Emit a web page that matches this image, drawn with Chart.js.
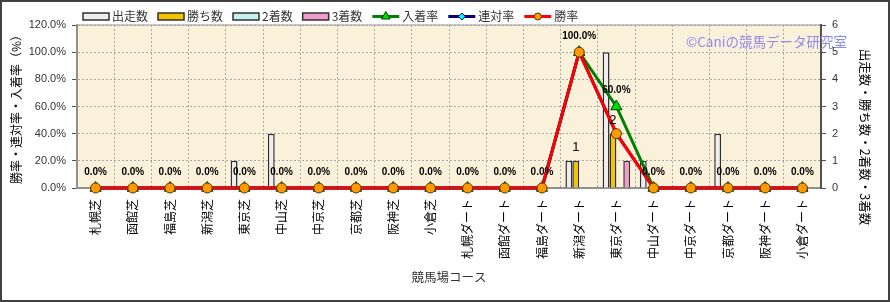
<!DOCTYPE html>
<html>
<head>
<meta charset="utf-8">
<script src="https://cdn.jsdelivr.net/npm/chart.js@4"></script>
<style>
  html, body { margin: 0; padding: 0; background: #fff; }
  #wrap { width: 890px; height: 302px; }
</style>
</head>
<body>
<div id="wrap"><canvas id="chart" width="890" height="302"></canvas></div>
<script>
const courses = ['札幌芝', '函館芝', '福島芝', '新潟芝', '東京芝', '中山芝', '中京芝', '京都芝', '阪神芝', '小倉芝',
  '札幌ダート', '函館ダート', '福島ダート', '新潟ダート', '東京ダート', '中山ダート', '中京ダート', '京都ダート', '阪神ダート', '小倉ダート'];

const runs    = [0, 0, 0, 0, 1, 2, 0, 0, 0, 0, 0, 0, 0, 1, 5, 1, 0, 2, 0, 0];
const wins    = [0, 0, 0, 0, 0, 0, 0, 0, 0, 0, 0, 0, 0, 1, 2, 0, 0, 0, 0, 0];
const seconds = [0, 0, 0, 0, 0, 0, 0, 0, 0, 0, 0, 0, 0, 0, 0, 0, 0, 0, 0, 0];
const thirds  = [0, 0, 0, 0, 0, 0, 0, 0, 0, 0, 0, 0, 0, 0, 1, 0, 0, 0, 0, 0];

const placeRate  = [0, 0, 0, 0, 0, 0, 0, 0, 0, 0, 0, 0, 0, 100, 60, 0, 0, 0, 0, 0];
const rentaiRate = [0, 0, 0, 0, 0, 0, 0, 0, 0, 0, 0, 0, 0, 100, 40, 0, 0, 0, 0, 0];
const winRate    = [0, 0, 0, 0, 0, 0, 0, 0, 0, 0, 0, 0, 0, 100, 40, 0, 0, 0, 0, 0];

const rateTicks = [0, 20, 40, 60, 80, 100, 120];
const countTicks = [0, 1, 2, 3, 4, 5, 6];

const JP = "'Noto Sans CJK JP', sans-serif";
const NUM = "'Liberation Sans', Arial, sans-serif";

function drawMarker(ctx, style, x, y, r, fill, stroke) {
    ctx.save();
    ctx.fillStyle = fill;
    ctx.strokeStyle = stroke;
    ctx.lineWidth = 1;
    ctx.beginPath();
    if (style === 'circle') {
        ctx.arc(x, y, r, 0, Math.PI * 2);
    } else if (style === 'triangle') {
        ctx.moveTo(x, y - r);
        ctx.lineTo(x + r * 0.87, y + r * 0.5);
        ctx.lineTo(x - r * 0.87, y + r * 0.5);
        ctx.closePath();
    } else {
        ctx.moveTo(x, y - r);
        ctx.lineTo(x + r, y);
        ctx.lineTo(x, y + r);
        ctx.lineTo(x - r, y);
        ctx.closePath();
    }
    ctx.fill();
    ctx.stroke();
    ctx.restore();
}

// plot background, outer frame, watermark, legend, right axis title
const decorPlugin = {
    id: 'decor',
    beforeDraw(chart) {
        const { ctx, chartArea: a, width, height } = chart;
        ctx.save();
        ctx.fillStyle = '#ffffff';
        ctx.fillRect(0, 0, width, height);
        ctx.fillStyle = '#fbf0da';
        ctx.fillRect(a.left, a.top, a.right - a.left, a.bottom - a.top);
        ctx.strokeStyle = '#c8c8c8';
        ctx.lineWidth = 2;
        ctx.beginPath();
        ctx.moveTo(a.left, a.top);
        ctx.lineTo(a.right, a.top);
        ctx.stroke();
        ctx.restore();
    },
    afterDraw(chart) {
        const { ctx, width, height } = chart;
        ctx.save();

        // watermark
        ctx.font = '13.5px ' + JP;
        ctx.fillStyle = '#8c8cee';
        ctx.textBaseline = 'middle';
        ctx.textAlign = 'left';
        ctx.fillText('©Caniの競馬データ研究室', 686, 42);

        // right axis title
        ctx.save();
        ctx.translate(865, 137);
        ctx.rotate(Math.PI / 2);
        ctx.font = '12.5px ' + JP;
        ctx.fillStyle = '#000';
        ctx.textAlign = 'center';
        ctx.fillText('出走数・勝ち数・2着数・3着数', 0, 0);
        ctx.restore();

        // legend
        let x = 83;
        const y = 16.5;
        ctx.font = '12px ' + JP;
        chart.data.datasets.forEach(ds => {
            if (ds.type === 'bar') {
                ctx.fillStyle = ds.backgroundColor;
                ctx.fillRect(x, y - 3.5, 26, 7);
                ctx.strokeStyle = '#303030';
                ctx.lineWidth = 1.5;
                ctx.strokeRect(x, y - 3.5, 26, 7);
                x += 29;
            } else {
                ctx.strokeStyle = ds.borderColor;
                ctx.lineWidth = 3;
                ctx.beginPath();
                ctx.moveTo(x, y);
                ctx.lineTo(x + 27, y);
                ctx.stroke();
                drawMarker(ctx, ds.pointStyle, x + 13.5, y, ds.pointRadius - 1.5, ds.pointBackgroundColor, ds.pointBorderColor);
                x += 30;
            }
            ctx.fillStyle = '#333';
            ctx.textAlign = 'left';
            ctx.fillText(ds.label, x, y);
            x += ctx.measureText(ds.label).width + 10;
        });

        // outer frame
        ctx.strokeStyle = '#404040';
        ctx.lineWidth = 2;
        ctx.strokeRect(1, 1, width - 2, height - 2);
        ctx.restore();
    }
};

// value labels on 入着率 points and on win bars
const labelPlugin = {
    id: 'valueLabels',
    afterDatasetsDraw(chart) {
        const { ctx } = chart;
        ctx.save();
        ctx.textAlign = 'center';
        ctx.textBaseline = 'middle';
        ctx.fillStyle = '#000';

        const placeMeta = chart.getDatasetMeta(4);
        ctx.font = 'bold 10px ' + NUM;
        placeMeta.data.forEach((pt, i) => {
            ctx.fillText(placeRate[i].toFixed(1) + '%', pt.x, pt.y - 16);
        });

        const winMeta = chart.getDatasetMeta(1);
        ctx.font = '13px ' + NUM;
        winMeta.data.forEach((bar, i) => {
            if (wins[i] > 0) ctx.fillText(String(wins[i]), bar.x, bar.y - 13);
        });
        ctx.restore();
    }
};

const barCommon = {
    type: 'bar',
    yAxisID: 'y1',
    borderColor: '#303030',
    borderWidth: 1.5,
    borderSkipped: 'start',
    barPercentage: 1.0,
    categoryPercentage: 0.74,
    order: 3
};

const lineCommon = {
    type: 'line',
    yAxisID: 'y',
    borderWidth: 3,
    tension: 0,
    clip: false,
    pointBorderWidth: 1
};

new Chart(document.getElementById('chart'), {
    data: {
        labels: courses,
        datasets: [
            { ...barCommon, label: '出走数', data: runs, backgroundColor: '#eeeeee' },
            { ...barCommon, label: '勝ち数', data: wins, backgroundColor: '#f5c400' },
            { ...barCommon, label: '2着数', data: seconds, backgroundColor: '#c4f0f0' },
            { ...barCommon, label: '3着数', data: thirds, backgroundColor: '#f29ccc' },
            { ...lineCommon, label: '入着率', data: placeRate, borderColor: '#008000',
              pointStyle: 'triangle', pointRadius: 6.5, pointBackgroundColor: '#00dd00', pointBorderColor: '#004000', order: 2 },
            { ...lineCommon, label: '連対率', data: rentaiRate, borderColor: '#000080',
              pointStyle: 'rectRot', pointRadius: 5, pointBackgroundColor: '#00ffff', pointBorderColor: '#000060', order: 1 },
            { ...lineCommon, label: '勝率', data: winRate, borderColor: '#ff0000',
              pointStyle: 'circle', pointRadius: 5, pointBackgroundColor: '#ff9900', pointBorderColor: '#5a3a00', order: 0 }
        ]
    },
    options: {
        responsive: false,
        animation: false,
        layout: { padding: { top: 25, left: 0, right: 0, bottom: 0 } },
        plugins: {
            legend: { display: false },
            tooltip: { enabled: false },
            title: { display: false }
        },
        scales: {
            x: {
                offset: true,
                afterFit: s => { s.height = 114; },
                grid: { color: '#a8a8a8', lineWidth: 1, offset: true, tickColor: 'transparent', tickLength: 8 },
                border: { color: '#909090', width: 2, dash: [2, 2] },
                ticks: {
                    autoSkip: false, minRotation: 90, maxRotation: 90, padding: 3,
                    color: '#000', font: { family: JP, size: 12 }
                },
                title: {
                    display: true, text: '競馬場コース', color: '#333',
                    font: { family: JP, size: 12.5 }, padding: { top: 0, bottom: 17 }
                }
            },
            y: {
                position: 'left',
                min: 0, max: 120,
                afterFit: s => { s.width = 77; },
                afterBuildTicks: s => { s.ticks = rateTicks.map(v => ({ value: v })); },
                grid: { color: '#a8a8a8', lineWidth: 1, tickColor: '#505050', tickLength: 5 },
                border: { color: '#909090', width: 2, dash: [2, 2] },
                ticks: {
                    padding: 6, color: '#333', font: { family: NUM, size: 11 },
                    callback: v => v.toFixed(1) + '%'
                },
                title: {
                    display: true, text: '勝率・連対率・入着率（%）', color: '#000',
                    font: { family: JP, size: 12 }, padding: { top: 9, bottom: 0 }
                }
            },
            y1: {
                position: 'right',
                min: 0, max: 6,
                afterFit: s => { s.width = 69; },
                afterBuildTicks: s => { s.ticks = countTicks.map(v => ({ value: v })); },
                grid: { drawOnChartArea: false, tickColor: '#505050', tickLength: 5 },
                border: { color: '#505050', width: 2 },
                ticks: { padding: 6, color: '#333', font: { family: NUM, size: 11 } }
            }
        }
    },
    plugins: [decorPlugin, labelPlugin]
});
</script>
</body>
</html>
